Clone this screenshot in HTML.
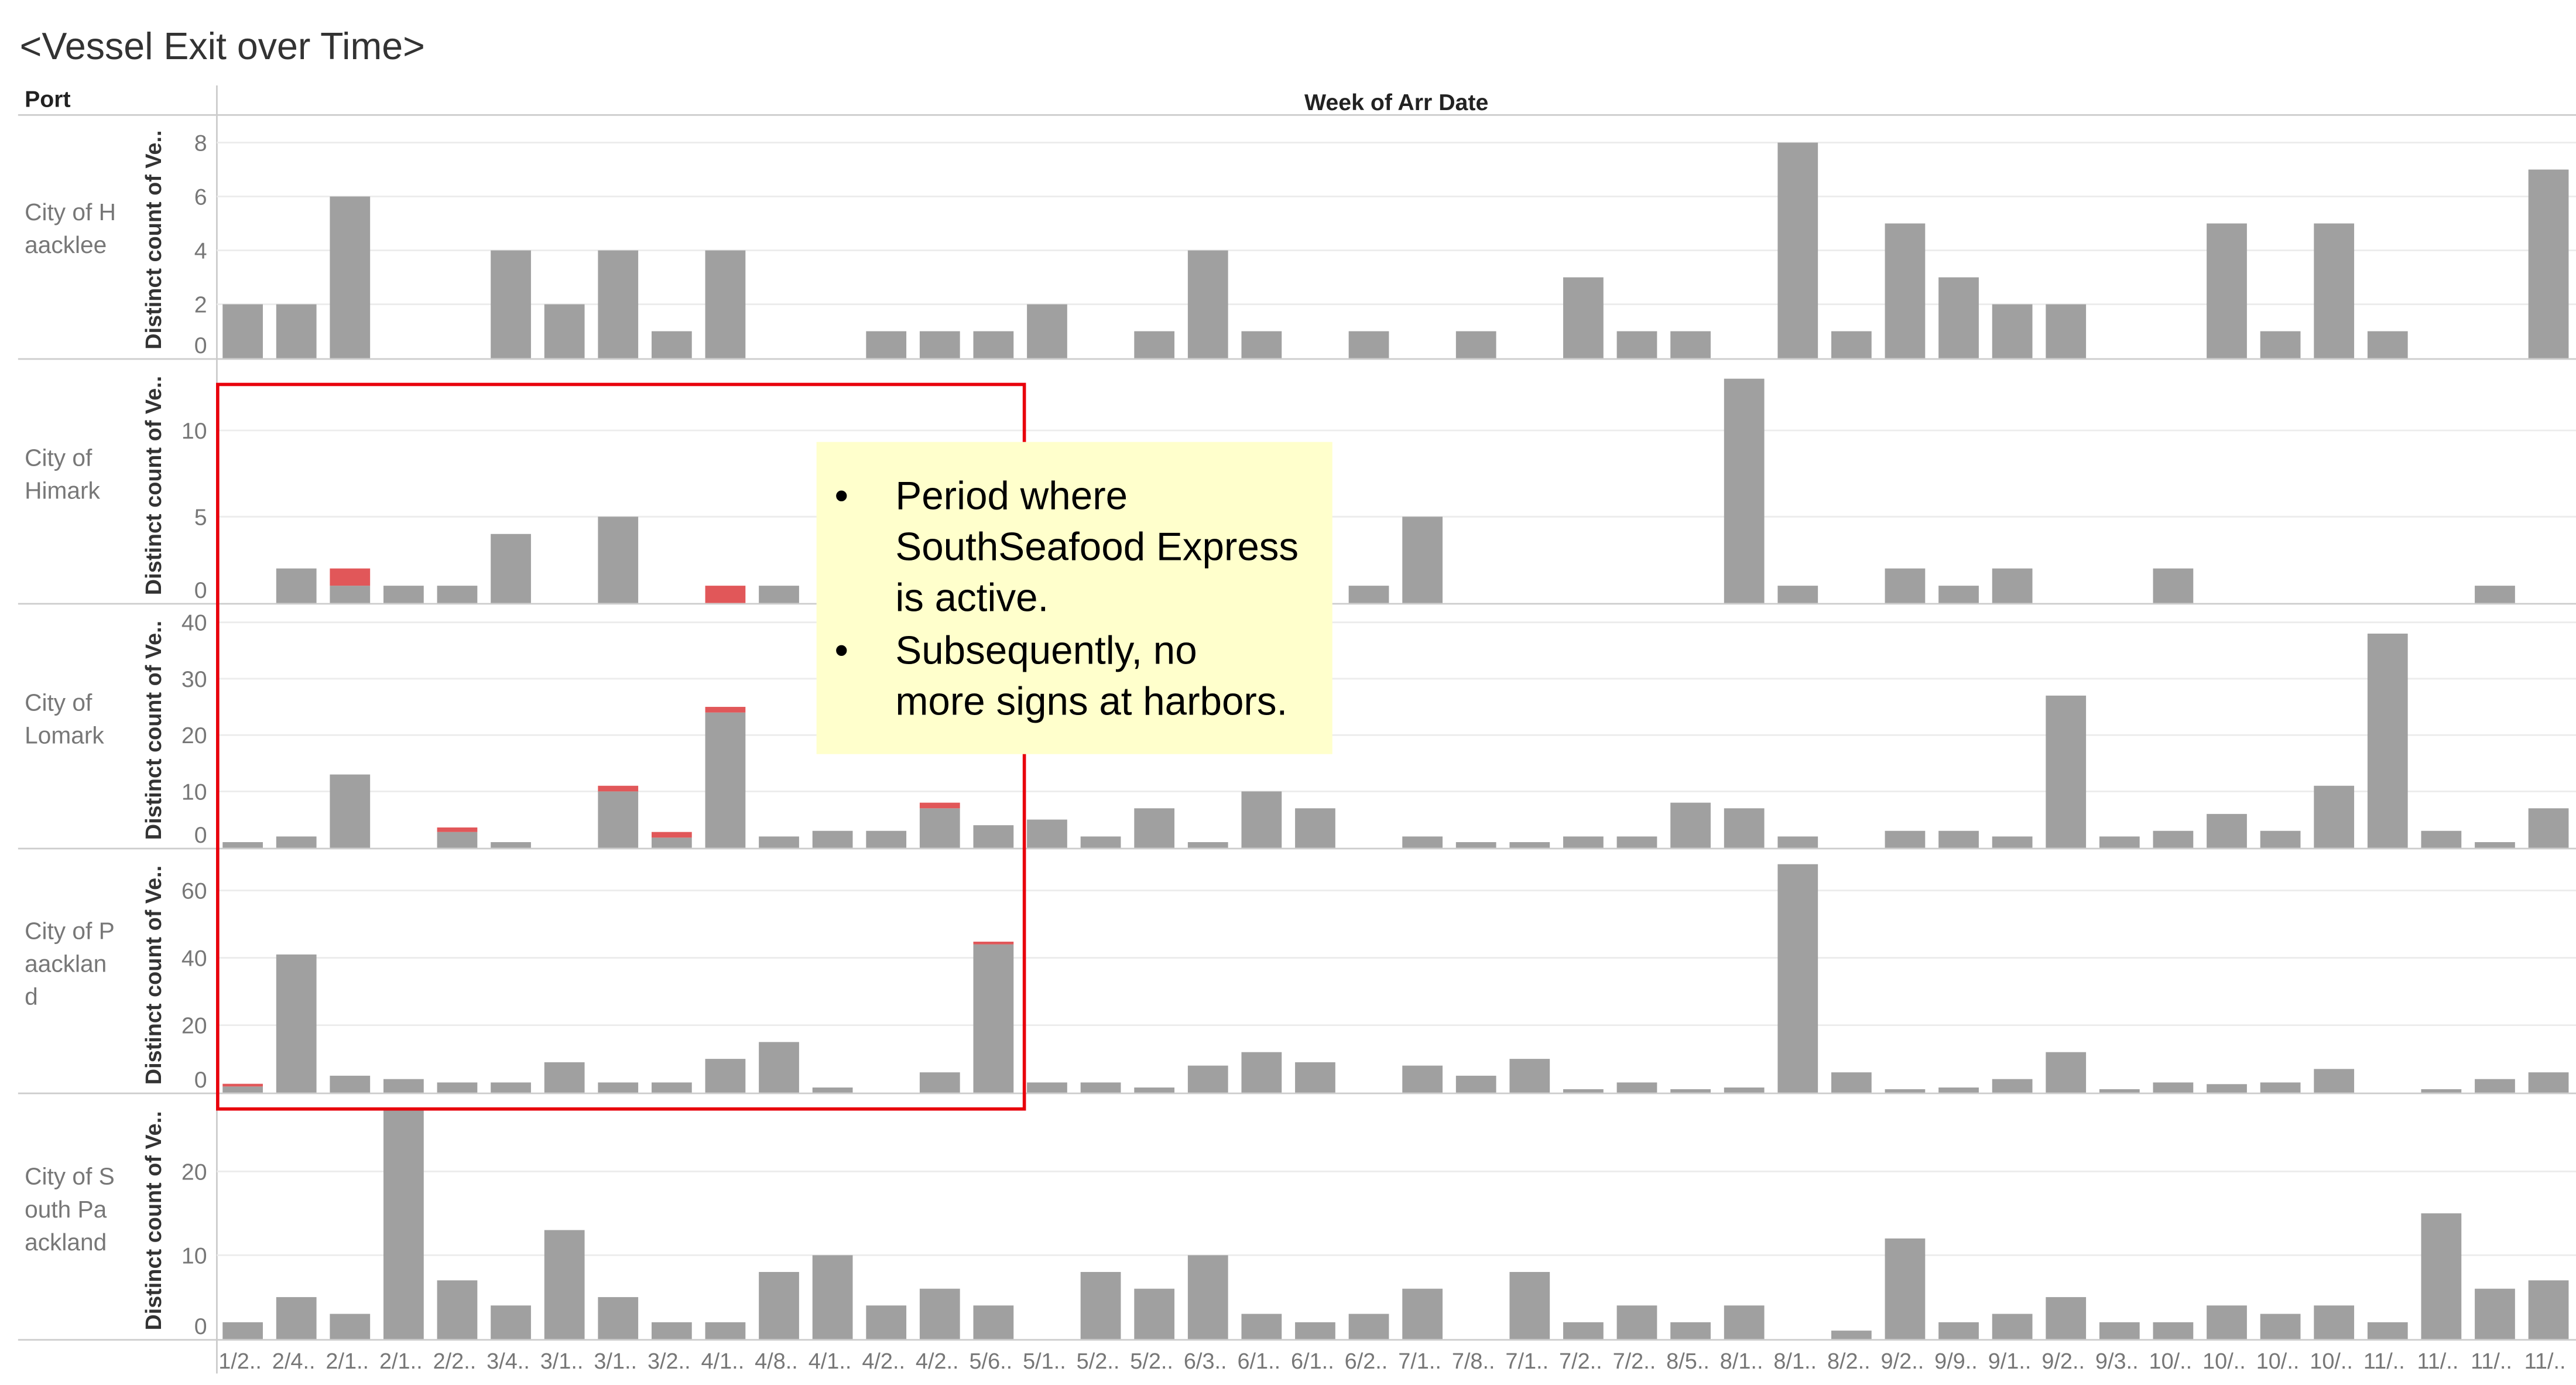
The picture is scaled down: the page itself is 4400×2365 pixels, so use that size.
<!DOCTYPE html>
<html><head><meta charset="utf-8"><style>
html,body{margin:0;padding:0;background:#fff;width:4400px;height:2365px;overflow:hidden}
svg{display:block}
text{font-family:"Liberation Sans",sans-serif}
</style></head><body>
<svg id="s" width="4400" height="2365" viewBox="0 0 1568 843" preserveAspectRatio="none" xmlns="http://www.w3.org/2000/svg">
<rect width="1568" height="843" fill="#fff"/>
<text x="12" y="36" font-size="23" fill="#333">&lt;Vessel Exit over Time&gt;</text>
<text x="15" y="65" font-size="14" font-weight="bold" fill="#222">Port</text>
<text x="850" y="67" font-size="14" font-weight="bold" fill="#222" text-anchor="middle">Week of Arr Date</text>
<line x1="11" y1="70" x2="1568" y2="70" stroke="#ccc" stroke-width="1"/>
<line x1="132" y1="52" x2="132" y2="836" stroke="#ccc" stroke-width="1"/>
<g id="g"></g>
<rect x="132.5" y="234" width="491" height="441" fill="none" stroke="#e8000b" stroke-width="2"/>
<rect x="497" y="269" width="314" height="190" fill="#ffffcc"/>
<g font-size="24" fill="#000" font-family="Liberation Sans Narrow, Liberation Sans, sans-serif">
<text x="508" y="310">•</text><text x="545" y="310">Period where</text>
<text x="545" y="341">SouthSeafood Express</text>
<text x="545" y="372">is active.</text>
<text x="508" y="404">•</text><text x="545" y="404">Subsequently, no</text>
<text x="545" y="435">more signs at harbors.</text>
</g>
</svg>
<script>
var N="http://www.w3.org/2000/svg",g=document.getElementById('g');
function el(t,a,txt){var e=document.createElementNS(N,t);for(var k in a)e.setAttribute(k,a[k]);if(txt!=null)e.textContent=txt;g.appendChild(e);return e;}
var rows=[
{n:["City of H","aacklee"],top:70,zero:218,max:8,ppu:16.4,ticks:[0,2,4,6,8],
 v:{0:2,1:2,2:6,5:4,6:2,7:4,8:1,9:4,12:1,13:1,14:1,15:2,17:1,18:4,19:1,21:1,23:1,25:3,26:1,27:1,29:8,30:1,31:5,32:3,33:2,34:2,37:5,38:1,39:5,40:1,43:7}},
{n:["City of","Himark"],top:220,zero:367,ppu:10.5,ticks:[0,5,10],
 v:{1:2,2:[1,1],3:1,4:1,5:4,7:5,9:[0,1],10:1,21:1,22:5,28:13,29:1,31:2,32:1,33:2,36:2,42:1}},
{n:["City of","Lomark"],top:369,zero:516,ppu:3.43,ticks:[0,10,20,30,40],
 v:{0:1,1:2,2:13,4:[2.8,0.8],5:1,7:[10,1],8:[1.8,1],9:[24,1],10:2,11:3,12:3,13:[7,1],14:4,15:5,16:2,17:7,18:1,19:10,20:7,22:2,23:1,24:1,25:2,26:2,27:8,28:7,29:2,31:3,32:3,33:2,34:27,35:2,36:3,37:6,38:3,39:11,40:38,41:3,42:1,43:7}},
{n:["City of P","aacklan","d"],top:518,zero:665,ppu:2.05,ticks:[0,20,40,60],
 v:{0:[1.8,0.8],1:41,2:5,3:4,4:3,5:3,6:9,7:3,8:3,9:10,10:15,11:1.5,13:6,14:[44,0.8],15:3,16:3,17:1.5,18:8,19:12,20:9,22:8,23:5,24:10,25:1,26:3,27:1,28:1.5,29:68,30:6,31:1,32:1.5,33:4,34:12,35:1,36:3,37:2.5,38:3,39:7,41:1,42:4,43:6}},
{n:["City of S","outh Pa","ackland"],top:667,zero:815,ppu:5.1,ticks:[0,10,20],
 v:{0:2,1:5,2:3,3:28,4:7,5:4,6:13,7:5,8:2,9:2,10:8,11:10,12:4,13:6,14:4,16:8,17:6,18:10,19:3,20:2,21:3,22:6,24:8,25:2,26:4,27:2,28:4,30:1,31:12,32:2,33:3,34:5,35:2,36:2,37:4,38:3,39:4,40:2,41:15,42:6,43:7}}
];
rows.forEach(function(r){
 r.ticks.forEach(function(t){var y=r.zero-t*r.ppu;
  if(t>0)el('line',{x1:132,x2:1568,y1:y,y2:y,stroke:'#ececec','stroke-width':1});
  el('text',{x:126,y:(t==0?y-3:y+5),'font-size':14,fill:'#777','text-anchor':'end'},t);});
 el('line',{x1:11,x2:1568,y1:r.zero+0.5,y2:r.zero+0.5,stroke:'#ccc','stroke-width':1});
 var cy=(r.top+r.zero)/2;
 el('text',{x:0,y:0,'font-size':13.5,fill:'#333','font-weight':'bold','text-anchor':'middle',transform:'translate(98,'+(cy+2)+') rotate(-90)'},'Distinct count of Ve..');
 r.n.forEach(function(s,i){el('text',{x:15,y:cy-10+i*20-(r.n.length-2)*10,'font-size':14.5,fill:'#777'},s);});
 for(var c in r.v){var v=r.v[c],gr=v,rd=0;if(v instanceof Array){gr=v[0];rd=v[1];}
  var x=132+c*32.64+3.5,h=gr*r.ppu,top=Math.max(r.zero-h,r.top+8);
  el('rect',{x:x,y:top,width:24.5,height:r.zero-top,fill:'#a0a0a0'});
  if(rd)el('rect',{x:x,y:top-rd*r.ppu,width:24.5,height:rd*r.ppu,fill:'#e15759'});}
});
var L="1/2..,2/4..,2/1..,2/1..,2/2..,3/4..,3/1..,3/1..,3/2..,4/1..,4/8..,4/1..,4/2..,4/2..,5/6..,5/1..,5/2..,5/2..,6/3..,6/1..,6/1..,6/2..,7/1..,7/8..,7/1..,7/2..,7/2..,8/5..,8/1..,8/1..,8/2..,9/2..,9/9..,9/1..,9/2..,9/3..,10/..,10/..,10/..,10/..,11/..,11/..,11/..,11/..".split(',');
L.forEach(function(s,i){el('text',{x:132+i*32.64+1,y:833,'font-size':13.5,fill:'#777'},s);});
</script>
</body></html>
